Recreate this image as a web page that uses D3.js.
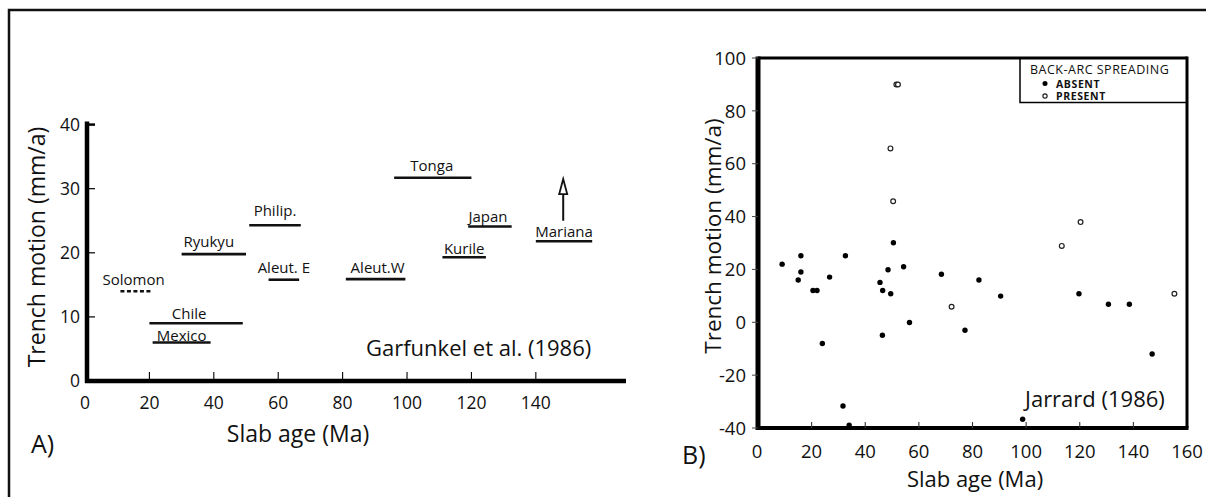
<!DOCTYPE html>
<html><head><meta charset="utf-8">
<script src="https://cdn.jsdelivr.net/npm/d3@7"></script>
<style>
html,body{margin:0;padding:0;background:#fff;}
text{font-family:"Open Sans",sans-serif;fill:#111;}
</style></head>
<body>
<svg id="c" width="1206" height="497"></svg>
<script>
// ---------- Panel A data (Garfunkel et al. 1986) ----------
const zones = ["Solomon","Chile","Mexico","Ryukyu","Philip.","Aleut. E","Tonga","Aleut.W","Kurile","Japan","Mariana"];
const zoneAgeStart = [11, 20, 21, 30, 51, 57, 96, 81, 111, 119, 140];
const zoneAgeEnd   = [21, 49, 39, 50, 67, 66.5, 120, 99.5, 124.5, 132.5, 157.5];
const zoneMotion   = [14, 9, 6, 19.8, 24.3, 15.8, 31.7, 15.9, 19.3, 24.1, 21.8];
const zoneDashed   = [true,false,false,false,false,false,false,false,false,false,false];
const marianaArrow = {age:148.5, from:25, to:31.5};
const xTicksA = [0,20,40,60,80,100,120,140];
const yTicksA = [0,10,20,30,40];

// ---------- Panel B data (Jarrard 1986) ----------
const absentAge    = [9,16,15,16,20.5,22,26.7,24,32.6,31.7,34,45.5,46.5,48.5,49.5,50.5,54.3,46.4,56.5,68.4,77.2,82.4,90.5,98.7,119.7,130.7,138.5,147];
const absentMotion = [22,25.2,16,19,12,12,17.1,-8,25.2,-31.7,-38.9,15.1,12,19.9,10.8,30.1,21,-4.9,-0.1,18.2,-3,16,9.9,-36.7,10.8,6.8,6.8,-12];
const presentAge    = [51.6,52.2,49.4,50.4,72.2,113.3,120.3,155.3];
const presentMotion = [90,90,65.8,45.8,5.9,28.9,37.9,10.8];
const xTicksB = [0,20,40,60,80,100,120,140,160];
const yTicksB = [-40,-20,0,20,40,60,80,100];
const legendItems = ["ABSENT","PRESENT"];

const svg = d3.select("#c");

// outer frame
svg.append("path").attr("d","M9,497 L9,10 L1206,10").attr("fill","none").attr("stroke","#111").attr("stroke-width",2.5);

// ================= Panel A =================
const xA = d3.scaleLinear().domain([0,168]).range([85,626]);
const yA = d3.scaleLinear().domain([0,40]).range([381,124.6]);
const gA = svg.append("g");

gA.append("line").attr("x1",xA(0)+2).attr("x2",xA(0)+2).attr("y1",yA(0)+2).attr("y2",yA(40)-3)
  .attr("stroke","#000").attr("stroke-width",4.5);
gA.append("line").attr("x1",xA(0)).attr("x2",xA(168)).attr("y1",yA(0)).attr("y2",yA(0))
  .attr("stroke","#000").attr("stroke-width",4.5);

gA.selectAll(".yt").data(yTicksA).join("line")
  .attr("x1",xA(0)+3).attr("x2",xA(0)+10).attr("y1",d=>yA(d)).attr("y2",d=>yA(d))
  .attr("stroke","#000").attr("stroke-width",d=>d===40?2.5:1.2);
gA.selectAll(".ytl").data(yTicksA).join("text")
  .attr("x",80).attr("y",d=>yA(d)).attr("dy","0.36em").attr("text-anchor","end")
  .attr("font-size",17.5).text(d=>d);
gA.selectAll(".xt").data(xTicksA.filter(d=>d>0)).join("line")
  .attr("x1",d=>xA(d)).attr("x2",d=>xA(d)).attr("y1",yA(0)-2).attr("y2",yA(0)-9)
  .attr("stroke","#000").attr("stroke-width",1.1);
gA.selectAll(".xtl").data(xTicksA).join("text")
  .attr("x",d=>xA(d)).attr("y",409).attr("text-anchor","middle")
  .attr("font-size",17.5).text(d=>d);

const idx = d3.range(zones.length);
gA.selectAll(".seg").data(idx).join("line")
  .attr("x1",i=>xA(zoneAgeStart[i])).attr("x2",i=>xA(zoneAgeEnd[i]))
  .attr("y1",i=>yA(zoneMotion[i])).attr("y2",i=>yA(zoneMotion[i]))
  .attr("stroke","#111").attr("stroke-width",2.6)
  .attr("stroke-dasharray",i=>zoneDashed[i]?"4,2.5":null);
const labelDx = {"Solomon":-3,"Chile":-7,"Mexico":-0,"Ryukyu":-5,"Philip.":-0,"Aleut. E":0,"Tonga":-1,"Aleut.W":2,"Kurile":0,"Japan":-2,"Mariana":0};
const labelDy = {"Solomon":6,"Chile":4.5,"Mexico":2,"Ryukyu":7,"Philip.":9,"Aleut. E":7,"Tonga":6.5,"Aleut.W":6.5,"Kurile":3,"Japan":5,"Mariana":4.5};
gA.selectAll(".lab").data(idx).join("text")
  .attr("x",i=>(xA(zoneAgeStart[i])+xA(zoneAgeEnd[i]))/2 + labelDx[zones[i]])
  .attr("y",i=>yA(zoneMotion[i]) - labelDy[zones[i]])
  .attr("text-anchor","middle").attr("font-size",15).text(i=>zones[i]);

gA.append("line").attr("x1",xA(marianaArrow.age)).attr("x2",xA(marianaArrow.age))
  .attr("y1",yA(marianaArrow.from)).attr("y2",yA(marianaArrow.to)+12)
  .attr("stroke","#111").attr("stroke-width",2);
{
  const ax = xA(marianaArrow.age), ay = yA(marianaArrow.to);
  gA.append("path").attr("d",`M${ax},${ay} L${ax-4},${ay+15} L${ax+4},${ay+15} Z`)
    .attr("fill","#fff").attr("stroke","#111").attr("stroke-width",1.8);
}

gA.append("text").attr("x",366).attr("y",356).attr("font-size",22).text("Garfunkel et al. (1986)");
gA.append("text").attr("transform","translate(45,247) rotate(-90)").attr("text-anchor","middle")
  .attr("font-size",23).text("Trench motion (mm/a)");
gA.append("text").attr("x",298).attr("y",442).attr("text-anchor","middle").attr("font-size",23).text("Slab age (Ma)");
gA.append("text").attr("x",31).attr("y",453).attr("font-size",25).text("A)");

// ================= Panel B =================
const xB = d3.scaleLinear().domain([0,160]).range([758,1187]);
const yB = d3.scaleLinear().domain([-40,100]).range([428,58]);
const gB = svg.append("g");

gB.append("line").attr("x1",xB(0)).attr("x2",xB(160)).attr("y1",yB(100)).attr("y2",yB(100)).attr("stroke","#000").attr("stroke-width",3);
gB.append("line").attr("x1",xB(160)).attr("x2",xB(160)).attr("y1",yB(100)-1.5).attr("y2",yB(-40)).attr("stroke","#000").attr("stroke-width",3);
gB.append("line").attr("x1",xB(0)).attr("x2",xB(0)).attr("y1",yB(100)-1.5).attr("y2",yB(-40)+2).attr("stroke","#000").attr("stroke-width",5);
gB.append("line").attr("x1",xB(0)-2).attr("x2",xB(160)+1.5).attr("y1",yB(-40)).attr("y2",yB(-40)).attr("stroke","#000").attr("stroke-width",4);

gB.selectAll(".yt").data(yTicksB).join("line")
  .attr("x1",xB(0)-6).attr("x2",xB(0)).attr("y1",d=>yB(d)).attr("y2",d=>yB(d))
  .attr("stroke","#444").attr("stroke-width",1);
gB.selectAll(".ytl").data(yTicksB).join("text")
  .attr("x",746).attr("y",d=>yB(d)).attr("dy","0.36em").attr("text-anchor","end")
  .attr("font-size",18.5).text(d=>d);
gB.selectAll(".xt").data(xTicksB.filter(d=>d>0&&d<160)).join("line")
  .attr("x1",d=>xB(d)).attr("x2",d=>xB(d)).attr("y1",yB(-40)).attr("y2",yB(-40)-6)
  .attr("stroke","#333").attr("stroke-width",1.1);
gB.selectAll(".xtl").data(xTicksB).join("text")
  .attr("x",d=>xB(d)-(d===0?1:0)).attr("y",458).attr("text-anchor","middle")
  .attr("font-size",18.5).text(d=>d);

gB.selectAll(".ab").data(d3.range(absentAge.length)).join("circle")
  .attr("cx",i=>xB(absentAge[i])).attr("cy",i=>yB(absentMotion[i])).attr("r",2.7).attr("fill","#000");
gB.selectAll(".pr").data(d3.range(presentAge.length)).join("circle")
  .attr("cx",i=>xB(presentAge[i])).attr("cy",i=>yB(presentMotion[i])).attr("r",2.4)
  .attr("fill","#fff").attr("stroke","#222").attr("stroke-width",1.2);

const lg = gB.append("g");
lg.append("path").attr("d",`M1020,${yB(100)} L1020,102.5 L${xB(160)},102.5`).attr("fill","none").attr("stroke","#000").attr("stroke-width",1.5);
lg.append("text").attr("x",1030).attr("y",74).attr("font-family","'DejaVu Sans',sans-serif").attr("font-size",12.5)
  .attr("letter-spacing",0.5).text("BACK-ARC SPREADING");
lg.selectAll(".lt").data(legendItems).join("text")
  .attr("x",1056).attr("y",(d,i)=>87.5+i*12.5).attr("font-family","'DejaVu Sans',sans-serif").attr("font-size",10.5)
  .attr("font-weight","bold").attr("letter-spacing",0.6).text(d=>d);
lg.append("circle").attr("cx",1045).attr("cy",83.5).attr("r",2.5).attr("fill","#000");
lg.append("circle").attr("cx",1045).attr("cy",96).attr("r",2.1).attr("fill","#fff").attr("stroke","#222").attr("stroke-width",1.2);

gB.append("text").attr("x",1025).attr("y",407).attr("font-size",22).text("Jarrard (1986)");
gB.append("text").attr("transform","translate(721,236) rotate(-90)").attr("text-anchor","middle")
  .attr("font-size",22.5).text("Trench motion (mm/a)");
gB.append("text").attr("x",975).attr("y",487).attr("text-anchor","middle").attr("font-size",22).text("Slab age (Ma)");
gB.append("text").attr("x",682).attr("y",464).attr("font-size",25).text("B)");
</script>
</body></html>
